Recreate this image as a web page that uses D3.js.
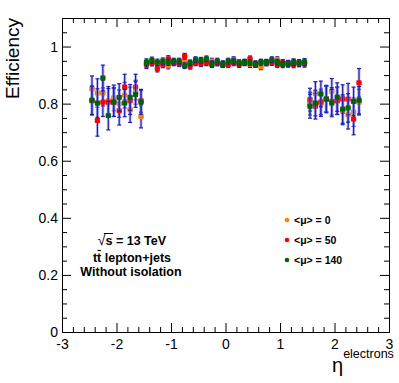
<!DOCTYPE html>
<html>
<head>
<meta charset="utf-8">
<script src="https://cdn.jsdelivr.net/npm/d3@7"></script>
<style>
  html, body { margin: 0; padding: 0; background: #fff; overflow: hidden; }
  svg { display: block; font-family: "Liberation Sans", Arial, sans-serif; }
</style>
</head>
<body>
<div id="chart"></div>
<script>
// eta bin centres, -2.45 .. 2.45 in steps of 0.1
const etaBins = [
  -2.45, -2.35, -2.25, -2.15, -2.05, -1.95, -1.85, -1.75, -1.65, -1.55,
  -1.45, -1.35, -1.25, -1.15, -1.05, -0.95, -0.85, -0.75, -0.65, -0.55,
  -0.45, -0.35, -0.25, -0.15, -0.05, 0.05, 0.15, 0.25, 0.35, 0.45,
  0.55, 0.65, 0.75, 0.85, 0.95, 1.05, 1.15, 1.25, 1.35, 1.45,
  1.55, 1.65, 1.75, 1.85, 1.95, 2.05, 2.15, 2.25, 2.35, 2.45
];

const effMu0 = [
  0.852, 0.837, 0.837, 0.810, 0.820, 0.800, 0.830, 0.779, 0.840, 0.755,
  0.935, 0.945, 0.940, 0.943, 0.933, 0.945, 0.943, 0.949, 0.940, 0.945,
  0.944, 0.943, 0.949, 0.943, 0.940, 0.943, 0.954, 0.943, 0.943, 0.937,
  0.940, 0.929, 0.943, 0.945, 0.954, 0.943, 0.940, 0.945, 0.940, 0.945,
  0.800, 0.835, 0.800, 0.816, 0.843, 0.810, 0.776, 0.761, 0.770, 0.805
];
const effMu50 = [
  0.810, 0.741, 0.805, 0.805, 0.805, 0.775, 0.858, 0.810, 0.858, 0.810,
  0.940, 0.943, 0.922, 0.937, 0.957, 0.943, 0.940, 0.966, 0.931, 0.943,
  0.940, 0.945, 0.940, 0.943, 0.937, 0.937, 0.943, 0.937, 0.945, 0.957,
  0.937, 0.945, 0.943, 0.945, 0.937, 0.943, 0.940, 0.937, 0.943, 0.940,
  0.814, 0.791, 0.806, 0.816, 0.808, 0.810, 0.816, 0.816, 0.746, 0.873
];
const effMu140 = [
  0.812, 0.802, 0.890, 0.758, 0.805, 0.822, 0.802, 0.822, 0.832, 0.805,
  0.945, 0.952, 0.945, 0.949, 0.945, 0.949, 0.949, 0.933, 0.943, 0.954,
  0.952, 0.957, 0.937, 0.949, 0.937, 0.949, 0.949, 0.943, 0.945, 0.943,
  0.937, 0.945, 0.945, 0.954, 0.945, 0.937, 0.940, 0.945, 0.943, 0.945,
  0.791, 0.802, 0.834, 0.816, 0.802, 0.823, 0.781, 0.785, 0.808, 0.812
];

const errMu0 = [
  0.045, 0.050, 0.045, 0.050, 0.045, 0.048, 0.045, 0.045, 0.042, 0.040,
  0.012, 0.011, 0.011, 0.011, 0.011, 0.010, 0.010, 0.010, 0.010, 0.010,
  0.010, 0.010, 0.010, 0.010, 0.010, 0.010, 0.010, 0.010, 0.010, 0.010,
  0.010, 0.010, 0.010, 0.010, 0.010, 0.011, 0.011, 0.011, 0.011, 0.012,
  0.040, 0.042, 0.045, 0.045, 0.045, 0.048, 0.050, 0.050, 0.050, 0.045
];
const errMu50 = [
  0.050, 0.055, 0.050, 0.048, 0.050, 0.050, 0.045, 0.048, 0.045, 0.040,
  0.012, 0.011, 0.011, 0.011, 0.011, 0.010, 0.010, 0.010, 0.010, 0.010,
  0.010, 0.010, 0.010, 0.010, 0.010, 0.010, 0.010, 0.010, 0.010, 0.010,
  0.010, 0.010, 0.010, 0.010, 0.010, 0.011, 0.011, 0.011, 0.011, 0.012,
  0.040, 0.045, 0.045, 0.045, 0.048, 0.048, 0.050, 0.055, 0.055, 0.050
];
const errMu140 = [
  0.050, 0.050, 0.045, 0.050, 0.050, 0.048, 0.048, 0.045, 0.045, 0.042,
  0.012, 0.011, 0.011, 0.011, 0.011, 0.010, 0.010, 0.010, 0.010, 0.010,
  0.010, 0.010, 0.010, 0.010, 0.010, 0.010, 0.010, 0.010, 0.010, 0.010,
  0.010, 0.010, 0.010, 0.010, 0.010, 0.011, 0.011, 0.011, 0.011, 0.012,
  0.042, 0.045, 0.045, 0.048, 0.048, 0.050, 0.050, 0.050, 0.050, 0.048
];

const seriesNames = ["<\u03bc> = 0", "<\u03bc> = 50", "<\u03bc> = 140"];
const xTicks = [-3, -2, -1, 0, 1, 2, 3];
const yTicks = [0, 0.2, 0.4, 0.6, 0.8, 1];

const color = ["#ff7f00", "#ff0000", "#006400"];
const series = [
  {name: seriesNames[0], eff: effMu0, err: errMu0, color: color[0]},
  {name: seriesNames[1], eff: effMu50, err: errMu50, color: color[1]},
  {name: seriesNames[2], eff: effMu140, err: errMu140, color: color[2]}
];

const width = 399;
const height = 383;
const margin = {top: 18, right: 10, bottom: 51, left: 62};
const innerWidth = width - margin.left - margin.right;
const innerHeight = height - margin.top - margin.bottom;

const svg = d3.select("#chart")
    .append("svg")
    .attr("width", width)
    .attr("height", height);

const xScale = d3.scaleLinear()
    .domain([-3, 3])
    .range([0, innerWidth]);

const yScale = d3.scaleLinear()
    .domain([0, 1.1])
    .range([innerHeight, 0]);

const innerChart = svg.append("g")
    .attr("transform", `translate(${margin.left}, ${margin.top})`);

// minor tick values
const xMinor = d3.range(-30, 31, 2).map(d => d / 10).filter(d => !xTicks.includes(d));
const yMinor = d3.range(0, 111, 5).map(d => d / 100).filter(d => Math.round(d * 100) % 20 !== 0);

const fmtY = d => (d === 0 || d === 1) ? String(d) : d.toFixed(1);

// bottom axis
innerChart.append("g")
    .attr("class", "axis")
    .attr("transform", `translate(0, ${innerHeight})`)
    .call(d3.axisBottom(xScale).tickValues(xTicks).tickSize(-9).tickPadding(7).tickFormat(d => String(d)));
innerChart.append("g")
    .attr("class", "axis minor nolab")
    .attr("transform", `translate(0, ${innerHeight})`)
    .call(d3.axisBottom(xScale).tickValues(xMinor).tickSize(-5));
// top axis
innerChart.append("g")
    .attr("class", "axis nolab")
    .call(d3.axisTop(xScale).tickValues(xTicks).tickSize(-9));
innerChart.append("g")
    .attr("class", "axis minor nolab")
    .call(d3.axisTop(xScale).tickValues(xMinor).tickSize(-5));
// left axis
innerChart.append("g")
    .attr("class", "axis")
    .call(d3.axisLeft(yScale).tickValues(yTicks).tickSize(-9).tickPadding(4).tickFormat(fmtY));
innerChart.append("g")
    .attr("class", "axis minor nolab")
    .call(d3.axisLeft(yScale).tickValues(yMinor).tickSize(-5));
// right axis
innerChart.append("g")
    .attr("class", "axis nolab")
    .attr("transform", `translate(${innerWidth}, 0)`)
    .call(d3.axisRight(yScale).tickValues(yTicks).tickSize(-9));
innerChart.append("g")
    .attr("class", "axis minor nolab")
    .attr("transform", `translate(${innerWidth}, 0)`)
    .call(d3.axisRight(yScale).tickValues(yMinor).tickSize(-5));

innerChart.selectAll(".nolab text").remove();
innerChart.selectAll(".minor path").remove();
innerChart.selectAll(".axis")
    .attr("font-size", 14)
    .attr("font-family", "'Liberation Sans', Arial, sans-serif");
innerChart.selectAll(".axis path").attr("stroke", "#000").attr("stroke-width", 1);
innerChart.selectAll(".axis line").attr("stroke", "#000").attr("stroke-width", 1);
innerChart.selectAll(".axis text").attr("fill", "#000");

// data points
const halfBin = 0.05;
series.forEach(s => {
  const pts = etaBins.map((eta, i) => ({eta, v: s.eff[i], e: s.err[i]}));
  const g = innerChart.append("g");
  // soft halo round the error bars
  g.selectAll(".halo").data(pts).enter().append("line")
      .attr("x1", d => xScale(d.eta)).attr("x2", d => xScale(d.eta))
      .attr("y1", d => yScale(d.v - d.e)).attr("y2", d => yScale(d.v + d.e))
      .attr("stroke", "#8a8ae8").attr("stroke-width", 3).attr("stroke-opacity", 0.5);
  g.selectAll(".hbar").data(pts).enter().append("line")
      .attr("x1", d => xScale(d.eta - halfBin)).attr("x2", d => xScale(d.eta + halfBin))
      .attr("y1", d => yScale(d.v)).attr("y2", d => yScale(d.v))
      .attr("stroke", "#5050d8").attr("stroke-width", 3).attr("stroke-opacity", 0.6);
  g.selectAll(".vbar").data(pts).enter().append("line")
      .attr("x1", d => xScale(d.eta)).attr("x2", d => xScale(d.eta))
      .attr("y1", d => yScale(d.v - d.e)).attr("y2", d => yScale(d.v + d.e))
      .attr("stroke", "#1c1cb4").attr("stroke-width", 1.2);
  ["lo", "hi"].forEach(k => {
    g.selectAll(".cap" + k).data(pts).enter().append("line")
        .attr("x1", d => xScale(d.eta) - 2).attr("x2", d => xScale(d.eta) + 2)
        .attr("y1", d => yScale(k === "lo" ? d.v - d.e : d.v + d.e))
        .attr("y2", d => yScale(k === "lo" ? d.v - d.e : d.v + d.e))
        .attr("stroke", "#1c1cb4").attr("stroke-width", 1.2);
  });
  g.selectAll("rect").data(pts).enter().append("rect")
      .attr("x", d => xScale(d.eta) - 2.5)
      .attr("y", d => yScale(d.v) - 2.5)
      .attr("width", 5).attr("height", 5)
      .attr("fill", s.color);
});

// legend
const legend = innerChart.append("g");
series.forEach((s, i) => {
  const ly = 202 + i * 20;
  legend.append("circle")
      .attr("cx", 225).attr("cy", ly).attr("r", 2.3)
      .attr("fill", s.color);
  legend.append("text")
      .attr("x", 232).attr("y", ly + 4)
      .attr("font-size", "10.5px").attr("font-weight", "bold")
      .text(s.name);
});

// labels inside the frame
const label = svg.append("g")
    .attr("font-weight", "bold")
    .attr("font-size", "12.5px")
    .attr("text-anchor", "middle");

const rs = label.append("text").attr("x", 132).attr("y", 245);
rs.append("tspan").attr("font-weight", "normal").attr("font-size", "14px").text("\u221a");
rs.append("tspan").text("s");
rs.append("tspan").text(" = 13 TeV");

const tt = label.append("text").attr("x", 132).attr("y", 262).text("tt lepton+jets");
label.append("text").attr("x", 131).attr("y", 276).text("Without isolation");

// overlines for sqrt(s) and t-bar
const rsNode = rs.node();
const sEnd = rsNode.getEndPositionOfChar(1);
const rootStart = rsNode.getStartPositionOfChar(0);
label.append("line")
    .attr("x1", rootStart.x + 6).attr("x2", sEnd.x + 0.5)
    .attr("y1", 233.5).attr("y2", 233.5)
    .attr("stroke", "#000").attr("stroke-width", 1);
const ttNode = tt.node();
const t2s = ttNode.getStartPositionOfChar(1);
const t2e = ttNode.getEndPositionOfChar(1);
label.append("line")
    .attr("x1", t2s.x + 0.5).attr("x2", t2e.x - 0.5)
    .attr("y1", 250.5).attr("y2", 250.5)
    .attr("stroke", "#000").attr("stroke-width", 1.2);

// axis titles
svg.append("text")
    .attr("transform", "translate(19, 18) rotate(-90)")
    .attr("text-anchor", "end")
    .attr("font-size", "19px")
    .text("Efficiency");

const xt = svg.append("text").attr("x", 332).attr("y", 372);
xt.append("tspan").attr("font-size", "20px").text("\u03b7");
xt.append("tspan").attr("font-size", "12.5px").attr("dy", -14).text("electrons");
</script>
</body>
</html>
